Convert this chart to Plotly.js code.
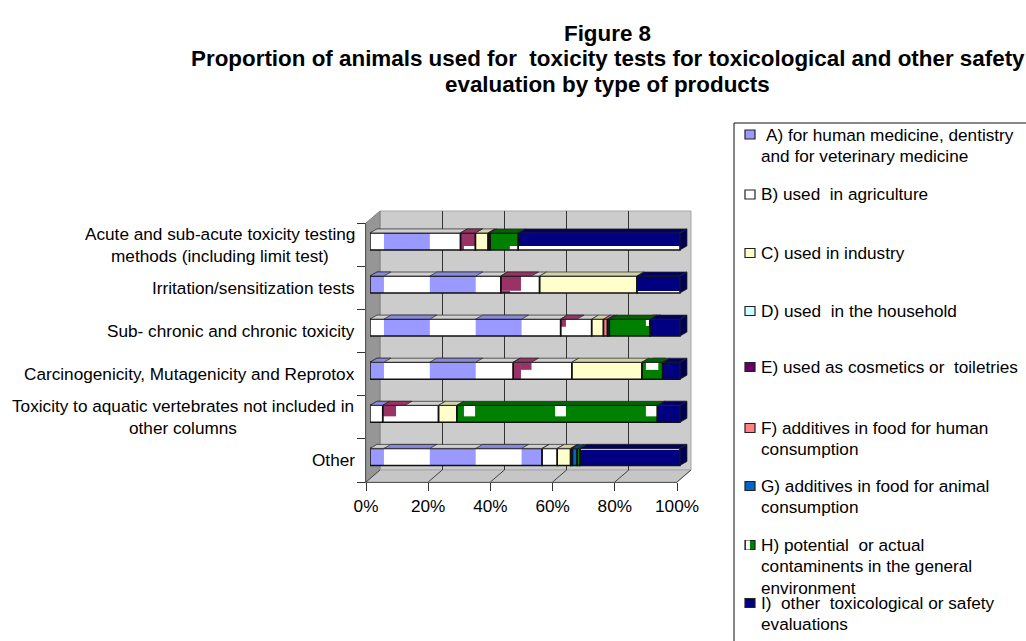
<!DOCTYPE html>
<html><head><meta charset="utf-8">
<script src="https://cdn.plot.ly/plotly-3.0.1.min.js"></script>
<style>html,body{margin:0;padding:0;background:#fff;overflow:hidden}</style>
</head><body><div id="chart" style="width:1026px;height:641px"></div>
<script>
const categories = [
  ["Acute and sub-acute toxicity testing","methods (including limit test)"],
  ["Irritation/sensitization tests"],
  ["Sub- chronic and chronic toxicity"],
  ["Carcinogenicity, Mutagenicity and Reprotox"],
  ["Toxicity to aquatic vertebrates not included in","other columns"],
  ["Other"]
];
const seriesA = [29.2, 42.2, 61.5, 46.2, 4.1, 55.5];
const seriesB = [4.8, 12.5, 10.0, 18.9, 18.0, 4.9];
const seriesC = [4.1, 31.4, 3.8, 22.6, 5.9, 4.3];
const seriesD = [0, 0, 0, 0, 0, 0];
const seriesE = [0.6, 0, 0, 0, 0, 0.6];
const seriesF = [0, 0, 1.3, 0, 0, 0];
const seriesG = [0, 0, 0.6, 0, 0, 1.5];
const seriesH = [9.1, 0, 13.1, 6.7, 64.7, 0.9];
const seriesI = [52.2, 13.9, 9.7, 5.6, 7.3, 32.3];
const xTicks = [0, 20, 40, 60, 80, 100];
const legendLines = [
  [" A) for human medicine, dentistry","and for veterinary medicine"],
  ["B) used  in agriculture"],
  ["C) used in industry"],
  ["D) used  in the household"],
  ["E) used as cosmetics or  toiletries"],
  ["F) additives in food for human","consumption"],
  ["G) additives in food for animal","consumption"],
  ["H) potential  or actual","contaminents in the general","environment"],
  ["I)  other  toxicological or safety","evaluations"]
];
const titleLines = ["Figure 8","Proportion of animals used for  toxicity tests for toxicological and other safety","evaluation by type of products"];

// ---- styling ----
const FONT = "Liberation Sans, Arial, sans-serif";
const TXT = 17.2, TTL = 22.4;
const fills = ["#9999FF","#FFFFFF","#FFFFCC","#CCFFFF","#660066","#FF8080","#0066CC","#008000","#000080"];
const topFills = ["#D0D0D0","#D0D0D0","#D2D2AA","#AADDDD","#440044","#CC6666","#004C99","#006400","#000066"];
const all = [seriesA,seriesB,seriesC,seriesD,seriesE,seriesF,seriesG,seriesH,seriesI];
const rows = categories.map((_,i)=>i);
const px = v => v/1026, py = v => 1-v/641;

// texture patches: [row, x from, x to, fraction top, fraction bottom, colour]
const MAROON="#993366", WHITE="#FFFFFF", LAV="#9999FF";
const patches = [
 [0,29.2,34,0,.77,MAROON],[0,29.2,30.3,.77,1,MAROON],
 [1,42.2,48.7,0,.87,MAROON],[1,42.2,45.2,.87,1,MAROON],
 [2,61.5,63.2,0,.45,MAROON],
 [3,46.2,48.7,0,1,MAROON],[3,48.7,52.1,0,.45,MAROON],
 [4,4.1,8.4,0,.65,MAROON],
 [0,45.1,47.8,.77,1,WHITE],[2,89,90.3,0,.4,WHITE],[3,89,93,0,.45,WHITE],
 [4,30.3,33.9,0,.65,WHITE],[4,59.7,63.2,0,.65,WHITE],[4,89,92.7,0,.65,WHITE],
 [0,47.8,100,.77,1,WHITE],[1,86,100,.9,1,WHITE],[5,67.9,100,0,.1,WHITE]
];
// top-face colour overrides: [row, x from, x to, colour]
const topPatches = [
 [0,29.2,34,MAROON],[1,42.2,52.1,MAROON],[2,61.5,66.8,MAROON],[3,46.2,52.1,MAROON],[4,4.1,11.3,MAROON],
 [2,89,91.5,"#D0D0D0"],[3,89,93,"#D0D0D0"],[4,92.7,100,"#D0D0D0"],[5,67.9,100,"#D0D0D0"]
];
const BAND0=4.5, BANDW=14.8;
const topLavPhase=[null,1,0,1,1,0];

const H=17/43.1, DX=7/3.1, DY=4/43.1;
const pos=(i,n)=>((i%n)+n)%n;
const traces=[];

// wall axes carry only a grid; first subplot holds nothing visible
traces.push({type:"scatter",x:[0,100],y:[0,1],xaxis:"x",yaxis:"y",mode:"none",hoverinfo:"skip",showlegend:false});

// cumulative bases
const bases=all.map(()=>rows.map(()=>0));
rows.forEach(r=>{let c=0;all.forEach((s,i)=>{bases[i][r]=c;c+=s[r];});});

all.forEach((s,i)=>{
  traces.push({type:"bar",orientation:"h",y:rows,x:s.map(v=>v>0?v:null),base:bases[i],width:H,
    xaxis:"x2",yaxis:"y2",marker:{color:fills[i],line:{width:0}},showlegend:false,hoverinfo:"skip"});
});

// A bands
const allPatches=patches.slice();
rows.forEach(r=>{
  const a=seriesA[r];
  for(let k=-1;k<6;k++){
    const lo=Math.max(0,BAND0+BANDW*k), hi=Math.min(a,BAND0+BANDW*(k+1));
    if(hi>lo && pos(k+r,2)===1) allPatches.push([r,lo,hi,0,1,WHITE]);
  }
});
[...new Set(allPatches.map(p=>p[5]))].forEach(col=>{
  const ps=allPatches.filter(p=>p[5]===col);
  traces.push({type:"bar",orientation:"h",y:ps.map(p=>p[0]),x:ps.map(p=>p[2]-p[1]),base:ps.map(p=>p[1]),
    width:ps.map(p=>H*(p[4]-p[3])),offset:ps.map(p=>-H/2+H*p[3]),
    xaxis:"x2",yaxis:"y2",marker:{color:col,line:{width:0}},showlegend:false,hoverinfo:"skip"});
});
// outlines
all.forEach((s,i)=>{
  traces.push({type:"bar",orientation:"h",y:rows,x:s.map(v=>v>0?v:null),base:bases[i],width:H,
    xaxis:"x2",yaxis:"y2",marker:{color:"rgba(0,0,0,0)",line:{width:1.5,color:"#111"}},showlegend:false,hoverinfo:"skip"});
});

// 3-D faces
const polys={};
const addTop=(r,x0,x1,col)=>{
  const y=r-H/2;
  (polys[col]=polys[col]||[]).push([[x0,y],[x1,y],[x1+DX,y-DY],[x0+DX,y-DY],[x0,y]]);
};
rows.forEach(r=>all.forEach((s,i)=>{ if(s[r]>0) addTop(r,bases[i][r],bases[i][r]+s[r],topFills[i]); }));
rows.forEach(r=>{
  if(topLavPhase[r]===null) return;
  for(let k=-1;k<6;k++){
    const lo=Math.max(0,BAND0+BANDW*k), hi=Math.min(seriesA[r],BAND0+BANDW*(k+1));
    if(hi>lo && pos(k+topLavPhase[r],2)===0) addTop(r,lo,hi,"#8A8ADD");
  }
});
topPatches.forEach(p=>addTop(p[0],p[1],p[2],p[3]));
rows.forEach(r=>{
  const a=r-H/2,b=r+H/2;
  (polys["#000050"]=polys["#000050"]||[]).push([[100,a],[100+DX,a-DY],[100+DX,b-DY],[100,b],[100,a]]);
});
Object.keys(polys).forEach(col=>{
  const xs=[],ys=[];
  polys[col].forEach(p=>{p.forEach(q=>{xs.push(q[0]);ys.push(q[1]);});xs.push(null);ys.push(null);});
  traces.push({type:"scatter",mode:"lines",x:xs,y:ys,xaxis:"x2",yaxis:"y2",fill:"toself",fillcolor:col,
    line:{color:"#222",width:0.7},showlegend:false,hoverinfo:"skip"});
});

// shapes
const P=(x0,y0,x1,y1)=>({xref:"paper",yref:"paper",x0:px(x0),x1:px(x1),y0:py(y0),y1:py(y1)});
const path=(pts,fill,lc)=>({type:"path",xref:"paper",yref:"paper",layer:"below",
  path:"M"+pts.map(p=>px(p[0])+","+py(p[1])).join("L")+"Z",fillcolor:fill,line:{color:lc,width:1}});
const shapes=[
  path([[380,211],[691,211],[691,470],[380,470]],"#CCCCCC","#A6A6A6"),
  path([[366,223],[380,211],[380,470],[366,482]],"#969696","#808080"),
  path([[366,482],[380,470],[691,470],[677,482]],"#C6C6C6","#A6A6A6")
];
xTicks.forEach(t=>{
  const a=366+3.11*t;
  shapes.push({type:"line",layer:"below",...P(a,482,a+14,470),line:{color:"#444",width:1}});
});
// legend frame
shapes.push({type:"line",...P(734,123,1026,123),line:{color:"#111",width:1}});
shapes.push({type:"line",...P(734,123,734,641),line:{color:"#111",width:1}});

// annotations
const annotations=[];
const base={showarrow:false,font:{family:FONT,size:TXT,color:"#000"}};
const catCenter=[220,null,null,null,183,null];
categories.forEach((lines,r)=>{
  lines.forEach((t,j)=>{
    const off=(j-(lines.length-1)/2)*22;
    annotations.push({...base,text:t,xref:"paper",x:px(lines.length>1?catCenter[r]:357),
      xanchor:lines.length>1?"center":"right",yref:"y3",y:r,yanchor:"middle",yshift:-off});
  });
});
const legendY=[134.5,194.5,253,311,367,428,486,545,603];
const swatchFill=["#9999FF","#FFFFFF","#FFFFCC","#CCFFFF","#660066","#FF8080","#0066CC","#008000","#000080"];
legendLines.forEach((lines,i)=>{
  const y=legendY[i];
  shapes.push({type:"rect",...P(745,y-4.5,755,y+4.5),fillcolor:swatchFill[i],line:{color:"#222",width:1.2}});
  lines.forEach((t,j)=>{
    annotations.push({...base,text:t.trim(),xref:"paper",yref:"paper",x:px(i===0&&j===0?764:759),
      y:py(y+j*21.3),xanchor:"left",yanchor:"middle"});
  });
});
shapes.push({type:"rect",...P(746,540.5,750,549.5),fillcolor:"#FFFFFF",line:{width:0}});
// second and third title lines
[1,2].forEach(i=>annotations.push({showarrow:false,text:"<b>"+titleLines[i]+"</b>",font:{family:FONT,size:TTL,color:"#000"},
  xref:"paper",yref:"paper",x:px(607.5),y:py(33+26*i),xanchor:"center",yanchor:"middle"}));

const layout={
  width:1026,height:641,margin:{l:0,r:0,t:0,b:0},paper_bgcolor:"#fff",plot_bgcolor:"rgba(0,0,0,0)",
  barmode:"overlay",showlegend:false,
  title:{text:"<b>"+titleLines[0]+"</b>",font:{family:FONT,size:TTL,color:"#000"},x:px(607.5),xanchor:"center",y:py(33),yanchor:"middle"},
  // back wall grid
  xaxis:{domain:[px(380),px(691)],range:[0,100],tickvals:xTicks,showticklabels:false,ticks:"",showgrid:true,gridcolor:"#333",gridwidth:1,zeroline:false,anchor:"y"},
  yaxis:{domain:[py(470),py(211)],range:[0,1],visible:false,anchor:"x"},
  // bars, front plane
  xaxis2:{domain:[px(370),px(695)],range:[0,325/3.1],visible:false,anchor:"y2"},
  yaxis2:{domain:[py(479),py(222)],range:[(479-241.4)/43.1,(222-241.4)/43.1],visible:false,anchor:"x2"},
  // axes
  xaxis3:{domain:[px(366),px(677)],range:[0,100],tickvals:xTicks,ticktext:xTicks.map(t=>t+"%"),ticks:"outside",ticklen:8,tickcolor:"#333",
    showline:true,linecolor:"#555",showgrid:false,zeroline:false,anchor:"y3",tickfont:{family:FONT,size:TXT,color:"#000"}},
  yaxis3:{domain:[py(482),py(223)],range:[5.5,-0.5],tickvals:[-0.5,0.5,1.5,2.5,3.5,4.5,5.5],showticklabels:false,ticks:"outside",ticklen:8,tickcolor:"#333",
    showline:true,linecolor:"#555",showgrid:false,zeroline:false,anchor:"x3"},
  shapes,annotations
};
traces.push({type:"scatter",x:[0,100],y:[0,0],xaxis:"x3",yaxis:"y3",mode:"none",hoverinfo:"skip",showlegend:false});
Plotly.newPlot("chart",traces,layout,{displayModeBar:false,responsive:false});
</script></body></html>
